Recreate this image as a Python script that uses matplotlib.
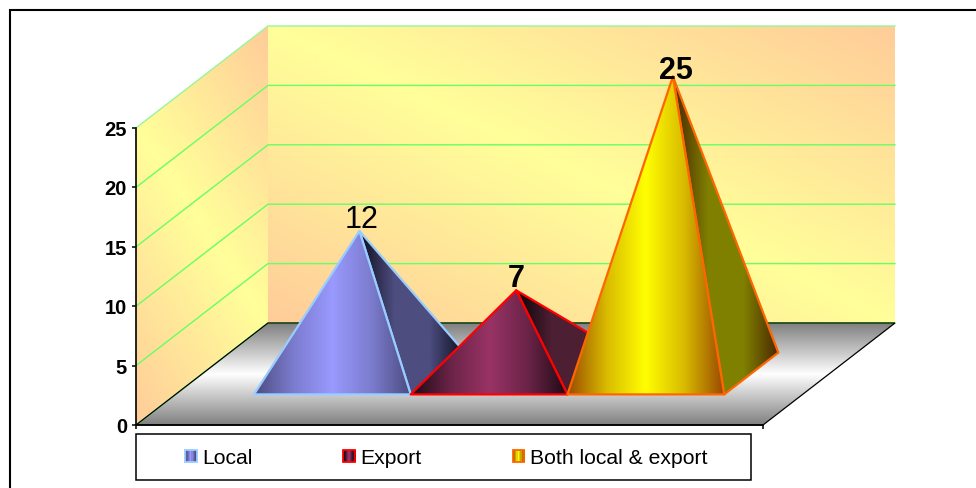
import numpy as np
import matplotlib
matplotlib.use("Agg")
import matplotlib.pyplot as plt
from matplotlib.colors import to_rgb
from matplotlib.legend_handler import HandlerBase
from matplotlib.lines import Line2D
from matplotlib.patches import Patch, Polygon, Rectangle
from matplotlib.transforms import ScaledTranslation

plt.rcParams["font.family"] = ["Liberation Sans", "DejaVu Sans"]

# Data
series_names = ["Local", "Export", "Both local & export"]
series_values = [12, 7, 25]
value_ticks = [0, 5, 10, 15, 20, 25]

# Face colours per series: centre and rim of the lit face, same for the shaded face, outline
front_centre = ["#9999FF", "#993366", "#FFFF00"]
front_rim = ["#4C4C80", "#1E0A14", "#9A4A00"]
side_centre = ["#4D4D80", "#4D1F33", "#808000"]
side_rim = ["#0E0E1E", "#0A0408", "#4A2800"]
outlines = ["#99CCFF", "#FF0000", "#FF6600"]
label_weights = ["normal", "bold", "bold"]
label_nudge_px = [3, 3, -3]
label_shift_px = [2, 0, 3]

W, H = 976, 488
PX_X = 209.0            # pixels per category unit
PX_Y = 11.88            # pixels per value unit
LEFT_PX, BASE_PX = 136, 425
DEPTH_X = 132 / PX_X    # shift of the back plane in category units
DEPTH_Y = 102 / PX_Y    # shift of the back plane in value units
X0, X1 = -0.5, 2.5
VMAX = value_ticks[-1]
BAR_W = 0.75
D_FRONT, D_BACK = 0.30, 0.71

PEACH, YELLOW = "#FFCC99", "#FFFF99"


def project(x, v, d):
    """Oblique projection of (category, value, depth) onto the axes plane."""
    return x + DEPTH_X * d, v + DEPTH_Y * d


fig = plt.figure(figsize=(W / 100, H / 100), dpi=100, facecolor="white")
ax = fig.add_axes([0, 0, 1, 1])
xlim = (X0 - LEFT_PX / PX_X, X0 + (W - LEFT_PX) / PX_X)
ylim = ((BASE_PX - H) / PX_Y, BASE_PX / PX_Y)
ax.patch.set_visible(False)


def ramp(t, stops):
    """Piecewise-linear colour ramp over evenly spaced stops, returns an RGB array."""
    pos = np.linspace(0, 1, len(stops))
    rgb = np.array([to_rgb(c) for c in stops])
    return np.dstack([np.interp(t, pos, rgb[:, i]) for i in range(3)])


def blend(a, b, f):
    """Colour a fraction f of the way from a to b."""
    a, b = np.array(to_rgb(a)), np.array(to_rgb(b))
    return tuple(a + (b - a) * f)


def lit_stops(rim, centre):
    """Rim-to-centre ramp that rises quickly, used on the lit faces."""
    mid = blend(rim, centre, 0.62)
    return [rim, mid, centre, mid, rim]


def shade(corners, tfunc, stops, z):
    """Fill a polygon with a gradient; tfunc maps axes coordinates to 0..1."""
    corners = np.array(corners)
    xa, xb = corners[:, 0].min(), corners[:, 0].max()
    ya, yb = corners[:, 1].min(), corners[:, 1].max()
    nx = max(int((xb - xa) * PX_X), 2)
    ny = max(int((yb - ya) * PX_Y), 2)
    X, V = np.meshgrid(np.linspace(xa, xb, nx), np.linspace(ya, yb, ny))
    img = ramp(np.clip(tfunc(X, V), 0, 1), stops)
    im = ax.imshow(img, extent=(xa, xb, ya, yb), origin="lower", aspect="auto",
                   interpolation="bilinear", zorder=z)
    clip = Polygon(corners, closed=True, transform=ax.transData)
    im.set_clip_path(clip)
    return im


# Back wall
back = [project(X0, 0, 1), project(X1, 0, 1), project(X1, VMAX, 1), project(X0, VMAX, 1)]
shade(back,
      lambda X, V: ((X - DEPTH_X - X0) / (X1 - X0) + (V - DEPTH_Y) / VMAX) / 2,
      [PEACH, YELLOW, PEACH], 1)

# Side wall
side = [project(X0, 0, 0), project(X0, 0, 1), project(X0, VMAX, 1), project(X0, VMAX, 0)]
shade(side,
      lambda X, V: ((X - X0) / DEPTH_X + (V - DEPTH_Y * (X - X0) / DEPTH_X) / VMAX) / 2,
      [PEACH, YELLOW, PEACH], 1)

# Floor
floor = [project(X0, 0, 0), project(X1, 0, 0), project(X1, 0, 1), project(X0, 0, 1)]
shade(floor, lambda X, V: V / DEPTH_Y, ["#808080", "#FFFFFF", "#808080"], 2)

# Gridlines across both walls
for tick in value_ticks:
    a, b, c = project(X0, tick, 0), project(X0, tick, 1), project(X1, tick, 1)
    colour = "#99F599" if tick == VMAX else "#66FF66"
    ax.plot([a[0], b[0], c[0]], [a[1], b[1], c[1]], color=colour, lw=1.0, zorder=3,
            solid_joinstyle="miter")

# Floor outline
ax.add_patch(Polygon(floor, closed=True, fill=False, edgecolor="black", lw=0.9, zorder=4))

# Pyramids, drawn left to right so each one covers the previous
for i, value in enumerate(series_values):
    xc = 1 + (i - 1) * BAR_W
    xl, xr = xc - BAR_W / 2, xc + BAR_W / 2
    d_mid = (D_FRONT + D_BACK) / 2
    apex = project(xc, value, d_mid)
    fl, fr = project(xl, 0, D_FRONT), project(xr, 0, D_FRONT)
    br = project(xr, 0, D_BACK)
    z = 10 + 3 * i

    face = [fr, br, apex]
    fa, fb = apex[0], br[0]
    shade(face, lambda X, V, a=fa, b=fb: (X - a) / (b - a),
          [side_rim[i], side_centre[i], side_centre[i], side_rim[i]], z)
    ax.add_patch(Polygon(face, closed=True, fill=False, edgecolor=outlines[i], lw=1.6,
                         joinstyle="round", zorder=z + 1))

    face = [fl, fr, apex]
    fa, fb = fl[0], fr[0]
    shade(face, lambda X, V, a=fa, b=fb: (X - a) / (b - a),
          lit_stops(front_rim[i], front_centre[i]), z + 1)
    ax.add_patch(Polygon(face, closed=True, fill=False, edgecolor=outlines[i], lw=1.6,
                         joinstyle="round", zorder=z + 2))

    ax.annotate(str(value), xy=apex,
                xytext=(label_shift_px[i] * 0.72, label_nudge_px[i] * 0.72),
                textcoords="offset points", ha="center", va="baseline",
                fontsize=22, fontweight=label_weights[i], color="black", zorder=30)

# Axes furniture
ax.set_xlim(xlim)
ax.set_ylim(ylim)
for name in ("top", "right"):
    ax.spines[name].set_visible(False)
ax.spines["left"].set_position(("data", X0))
ax.spines["left"].set_bounds(0, VMAX)
ax.spines["bottom"].set_position(("data", 0))
ax.spines["bottom"].set_bounds(X0, X1)
for name in ("left", "bottom"):
    ax.spines[name].set_linewidth(1.2)
    ax.spines[name].set_zorder(6)
ax.set_yticks(value_ticks)
ax.set_xticks([X0, X1])
ax.set_xticklabels(["", ""])
ax.tick_params(axis="y", length=3, width=1.1, pad=3.5, labelsize=14.5)
ax.tick_params(axis="x", length=3, width=1.1)
label_drop = ScaledTranslation(0, -0.5 / 100, fig.dpi_scale_trans)
for lab in ax.get_yticklabels():
    lab.set_fontweight("bold")
    lab.set_transform(lab.get_transform() + label_drop)


class Swatch(Patch):
    """Legend key that remembers its gradient colours."""

    def __init__(self, rim, centre, edge):
        super().__init__(facecolor=centre, edgecolor=edge)
        self.stops = [rim, centre, rim]
        self.edge = edge


class SwatchHandler(HandlerBase):
    def create_artists(self, legend, orig, xd, yd, width, height, fontsize, trans):
        n = 9
        artists = []
        colours = ramp(np.linspace(0, 1, n).reshape(1, -1), orig.stops)[0]
        for k in range(n):
            artists.append(Rectangle((-xd + width * k / n, -yd), width / n + 0.6, height,
                                     facecolor=colours[k], edgecolor="none",
                                     antialiased=False, transform=trans))
        artists.append(Rectangle((-xd, -yd), width, height, fill=False,
                                 edgecolor=orig.edge, lw=1.3, transform=trans))
        return artists


# Legend frame and entries
fig.add_artist(Rectangle((136 / W, 1 - 480 / H), (751 - 136) / W, 46 / H, facecolor="white",
                         edgecolor="black", lw=1.1, transform=fig.transFigure))
handles = [Swatch(front_rim[i], front_centre[i], outlines[i]) for i in range(3)]
FS_PX = 15.2 / 0.72
leg = fig.legend(handles, series_names, handler_map={Swatch: SwatchHandler()}, ncol=3,
                 loc="upper left", bbox_to_anchor=(185 / W, 1 - 448.5 / H),
                 bbox_transform=fig.transFigure, frameon=False, fontsize=15.2,
                 borderpad=0, borderaxespad=0, labelspacing=0,
                 handlelength=11.5 / FS_PX, handleheight=11.5 / FS_PX,
                 handletextpad=5.5 / FS_PX, columnspacing=91 / FS_PX)

# Outer border, running off the top-right and bottom-left of the page
fig.add_artist(Line2D([9.5 / W, 9.5 / W, 1], [0, 1 - 9.5 / H, 1 - 9.5 / H], color="black",
                      lw=1.5, transform=fig.transFigure, solid_joinstyle="miter"))

fig.savefig("out.png", dpi=100)
